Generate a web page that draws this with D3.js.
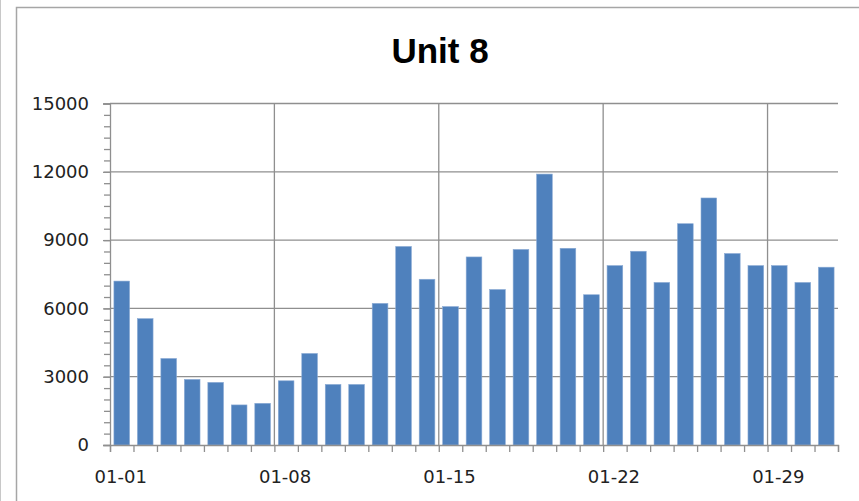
<!DOCTYPE html>
<html>
<head>
<meta charset="utf-8">
<script src="https://cdn.jsdelivr.net/npm/d3@7"></script>
<style>
  html, body { margin: 0; padding: 0; background: #fff; }
  svg { display: block; }
</style>
</head>
<body>
<div id="chart"></div>
<script>
// day labels, one bar per day
const days = [
    "01-01", "01-02", "01-03", "01-04", "01-05", "01-06", "01-07",
    "01-08", "01-09", "01-10", "01-11", "01-12", "01-13", "01-14",
    "01-15", "01-16", "01-17", "01-18", "01-19", "01-20", "01-21",
    "01-22", "01-23", "01-24", "01-25", "01-26", "01-27", "01-28",
    "01-29", "01-30", "01-31"
];

// values
const values = [
    7200, 5550, 3800, 2880, 2750, 1760, 1830,
    2820, 4020, 2660, 2660, 6220, 8720, 7280,
    6080, 8260, 6830, 8590, 11900, 8640, 6600,
    7880, 8510, 7140, 9720, 10850, 8410, 7880,
    7880, 7140, 7810
];

const yTicks = [0, 3000, 6000, 9000, 12000, 15000];
const labelDays = ["01-01", "01-08", "01-15", "01-22", "01-29"];
const title = "Unit 8";

const W = 859, H = 501;
const margin = { top: 103.5, right: 21, bottom: 56, left: 110 };
const width = W - margin.left - margin.right;
const height = H - margin.top - margin.bottom;

const svg = d3.select("#chart").append("svg")
    .attr("width", W)
    .attr("height", H);

// outer frame of the chart object
svg.append("line")
    .attr("x1", 0.5).attr("x2", 0.5).attr("y1", 0).attr("y2", H)
    .attr("stroke", "#c8c8c8").attr("stroke-width", 1);
svg.append("path")
    .attr("d", `M16.5,${H} V7.5 H${W}`)
    .attr("fill", "none")
    .attr("stroke", "#a6a6a6")
    .attr("stroke-width", 1.5);

svg.append("text")
    .attr("x", 440)
    .attr("y", 63)
    .attr("text-anchor", "middle")
    .attr("font-family", "Liberation Sans, Arial, sans-serif")
    .attr("font-weight", "bold")
    .attr("font-size", "35px")
    .attr("fill", "#000")
    .text(title);

const g = svg.append("g").attr("transform", `translate(${margin.left},${margin.top})`);

const x = d3.scaleBand()
    .domain(days)
    .range([0, width])
    .paddingInner(1 / 3)
    .paddingOuter(1 / 6);

// category boundaries, for ticks and vertical grid
const xi = d3.scaleLinear().domain([0, days.length]).range([0, width]);

const y = d3.scaleLinear().domain([0, 15000]).range([height, 0]);

const gridColor = "#8f8f8f";

// horizontal grid
g.append("g")
    .selectAll("line")
    .data(yTicks.filter(d => d > 0))
    .join("line")
    .attr("x1", 0).attr("x2", width)
    .attr("y1", d => y(d)).attr("y2", d => y(d))
    .attr("stroke", gridColor)
    .attr("stroke-width", 1.3);

// vertical grid every 7 days
g.append("g")
    .selectAll("line")
    .data(labelDays.map(d => days.indexOf(d)).filter(i => i > 0))
    .join("line")
    .attr("x1", i => xi(i)).attr("x2", i => xi(i))
    .attr("y1", 0).attr("y2", height)
    .attr("stroke", gridColor)
    .attr("stroke-width", 1.3);

// bars
g.append("g")
    .selectAll("rect")
    .data(values)
    .join("rect")
    .attr("x", (d, i) => x(days[i]))
    .attr("y", d => y(d))
    .attr("width", x.bandwidth())
    .attr("height", d => height - y(d))
    .attr("fill", "#4f81bd")
    .attr("stroke", "#8aaad4")
    .attr("stroke-width", 0.6);

// y axis: minor then major ticks
const yMinor = g.append("g")
    .call(d3.axisLeft(y).tickValues(d3.range(0, 15001, 500)).tickSize(6).tickFormat(""));
yMinor.select(".domain").remove();
yMinor.selectAll(".tick line").attr("stroke", gridColor).attr("stroke-width", 1.3);

const yAxis = g.append("g")
    .call(d3.axisLeft(y).tickValues(yTicks).tickSize(7).tickPadding(14).tickFormat(d3.format("d")));
yAxis.select(".domain").attr("stroke", gridColor).attr("stroke-width", 1.3);
yAxis.selectAll(".tick line").attr("stroke", gridColor).attr("stroke-width", 1.3);
yAxis.selectAll(".tick text")
    .attr("font-family", "DejaVu Sans, Verdana, sans-serif")
    .attr("font-size", "18px")
    .attr("fill", "#222");

// x axis: ticks at every category boundary
const xAxis = g.append("g")
    .attr("transform", `translate(0,${height})`)
    .call(d3.axisBottom(xi).tickValues(d3.range(days.length + 1)).tickSize(7).tickFormat(""));
xAxis.select(".domain").attr("stroke", gridColor).attr("stroke-width", 1.3);
xAxis.selectAll(".tick line").attr("stroke", gridColor).attr("stroke-width", 1.3);

// x labels centred on their day
g.append("g")
    .selectAll("text")
    .data(labelDays)
    .join("text")
    .attr("x", d => x(d) + x.bandwidth() / 2 - 1)
    .attr("y", height + 38)
    .attr("text-anchor", "middle")
    .attr("font-family", "DejaVu Sans, Verdana, sans-serif")
    .attr("font-size", "18px")
    .attr("fill", "#222")
    .text(d => d);
</script>
</body>
</html>
